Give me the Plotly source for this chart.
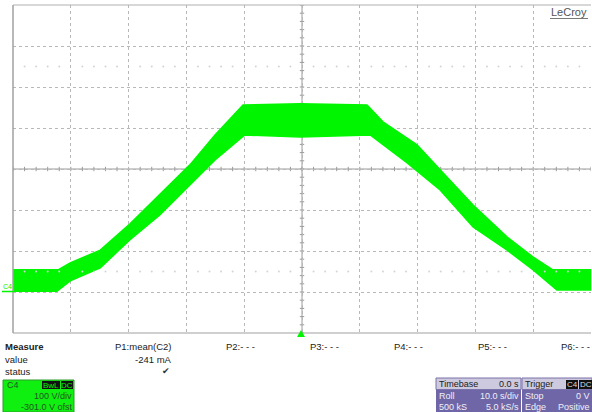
import plotly.graph_objects as go

upper_t = [-50, -42.2, -40.1, -34.9, -29.8, -24.6, -19.4, -15.05, -10.2, -0.35, 11.25,
           14.0, 19.9, 23.9, 29.6, 35.5, 40.0, 43.4, 50]
upper_v = [55, 55, 72, 103, 167, 238, 311, 384, 457, 460, 457,
           416, 360, 299, 213, 135, 86, 55, 55]
lower_t = [-50, -42.4, -40.1, -34.9, -29.8, -24.6, -19.4, -15.05, -9.9, -0.35, 11.8,
           18.2, 23.9, 29.6, 35.5, 40.0, 44.1, 50]
lower_v = [3, 3, 28, 60, 128, 189, 262, 323, 384, 379, 384,
           316, 250, 160, 103, 55, 6, 6]

meas_labels = ["P1:mean(C2)", "P2:- - -", "P3:- - -", "P4:- - -", "P5:- - -", "P6:- - -"]
meas_values = ["-241 mA", "", "", "", "", ""]
meas_status = ["\u2714", "", "", "", "", ""]

time_div = 10.0      # s/div
volt_div = 100.0     # V/div
offset = -301.0      # V
t_center = 0.0

# ---- geometry helpers ----
W, H = 592, 412
L, R, T, B = 13, 1, 5, 79
PW, PH = W - L - R, H - T - B

def px(x):
    return (x - L) / PW

def py(y):
    return (H - B - y) / PH

v_center = -offset
x0, x1 = t_center - 5 * time_div, t_center + 5 * time_div
y0, y1 = v_center - 4 * volt_div, v_center + 4 * volt_div

GREEN = "#00f500"
FONT = "Liberation Sans, Arial, sans-serif"

fig = go.Figure()

# waveform envelope
fig.add_trace(go.Scatter(
    x=upper_t + lower_t[::-1], y=upper_v + lower_v[::-1],
    fill="toself", fillcolor=GREEN, mode="lines",
    line=dict(color=GREEN, width=1.5), hoverinfo="skip", showlegend=False))

shapes = []
# center crosshair (solid) with minor ticks
shapes.append(dict(type="line", xref="x", yref="y", x0=t_center, x1=t_center, y0=y0, y1=y1,
                   line=dict(color="#9a9a9a", width=1), layer="below"))
shapes.append(dict(type="line", xref="x", yref="y", x0=x0, x1=x1, y0=v_center, y1=v_center,
                   line=dict(color="#9a9a9a", width=1), layer="below"))
tx = 2.2 / PW * (x1 - x0)
ty = 2.2 / PH * (y1 - y0)
for i in range(-25, 26):
    xt = t_center + i * time_div / 5
    shapes.append(dict(type="line", xref="x", yref="y", x0=xt, x1=xt,
                       y0=v_center - ty, y1=v_center + ty,
                       line=dict(color="#9a9a9a", width=1), layer="below"))
for j in range(-20, 21):
    yt = v_center + j * volt_div / 5
    shapes.append(dict(type="line", xref="x", yref="y", x0=t_center - tx, x1=t_center + tx,
                       y0=yt, y1=yt, line=dict(color="#9a9a9a", width=1), layer="below"))

# borders
shapes.append(dict(type="line", xref="paper", yref="paper", x0=0, x1=0, y0=0, y1=1,
                   line=dict(color="#a0a0a0", width=1.5)))
shapes.append(dict(type="line", xref="paper", yref="paper", x0=0, x1=1, y0=1, y1=1,
                   line=dict(color="#b0b0b0", width=1)))
shapes.append(dict(type="line", xref="paper", yref="paper", x0=0, x1=1, y0=0, y1=0,
                   line=dict(color="#a0a0a0", width=1)))

# faint dot rows
dot_x = [t_center + i * time_div / 5 for i in range(-24, 25) if i % 5 != 0]
for yrow in (v_center + 2.5 * volt_div, v_center - 2.5 * volt_div):
    fig.add_trace(go.Scatter(x=dot_x, y=[yrow] * len(dot_x), mode="markers",
                             marker=dict(color="#d4d4d4", size=2), hoverinfo="skip",
                             showlegend=False))

# trigger marker
shapes.append(dict(type="path", xref="paper", yref="paper",
                   path=f"M {px(297)} {py(337)} L {px(305)} {py(337)} L {px(301)} {py(330)} Z",
                   fillcolor=GREEN, line=dict(width=0)))
# C4 ground marker
shapes.append(dict(type="line", xref="paper", yref="paper", x0=px(2), x1=px(13),
                   y0=py(291.5), y1=py(291.5), line=dict(color=GREEN, width=1.5)))

annotations = []

def txt(x, y, s, anchor="left", size=10, color="#222", bold=False):
    if bold:
        s = "<b>" + s + "</b>"
    annotations.append(dict(xref="paper", yref="paper", x=px(x), y=py(y), text=s,
                            showarrow=False, xanchor=anchor, yanchor="middle",
                            font=dict(family=FONT, size=size, color=color), borderpad=0))

txt(2, 286, "C4", size=7, color=GREEN)

# LeCroy logo
txt(550, 12, "LeCroy", size=11, color="#555")
shapes.append(dict(type="line", xref="paper", yref="paper", x0=px(550), x1=px(588),
                   y0=py(18.5), y1=py(18.5), line=dict(color="#777", width=1)))

# measure table
txt(4, 346, "Measure", size=9.5, bold=True)
txt(4, 359, "value", size=9.5)
txt(4, 371, "status", size=9.5)
col_right = [173, 256, 340, 424, 508, 591]
for xr, lab, val, st in zip(col_right, meas_labels, meas_values, meas_status):
    txt(xr, 346, lab, anchor="right", size=9.5)
    if val:
        txt(xr, 359, val, anchor="right", size=9.5)
    if st:
        txt(xr - 2, 371, st, anchor="right", size=9, color="#333")

# C4 channel box
shapes.append(dict(type="rect", xref="paper", yref="paper", x0=px(3), x1=px(74),
                   y0=py(412), y1=py(380), fillcolor="#10f010", line=dict(color="#2a9a2a", width=1)))
txt(6, 385, "C4", size=9, color="#225522")
for bx0, bx1, lab in ((42, 60, "BwL"), (61, 73, "DC")):
    shapes.append(dict(type="rect", xref="paper", yref="paper", x0=px(bx0), x1=px(bx1),
                       y0=py(389), y1=py(381), fillcolor="#111", line=dict(width=0)))
    txt((bx0 + bx1) / 2, 385, lab, anchor="center", size=8, color=GREEN)
txt(73, 396, f"{volt_div:.0f} V/div", anchor="right", size=9, color="#225522")
txt(74, 407, f"{offset:.1f} V ofst", anchor="right", size=9, color="#225522")

# Timebase and Trigger boxes
HDR = "#cdc9de"
BODY = "#6e66a6"
for bx0, bx1 in ((436, 521), (522, 592)):
    shapes.append(dict(type="rect", xref="paper", yref="paper", x0=px(bx0), x1=px(bx1),
                       y0=py(412), y1=py(389.5), fillcolor=BODY, line=dict(width=0)))
    shapes.append(dict(type="rect", xref="paper", yref="paper", x0=px(bx0), x1=px(bx1),
                       y0=py(389.5), y1=py(378), fillcolor=HDR, line=dict(color="#7a72aa", width=1)))
txt(438, 384, "Timebase", size=9, color="#222")
txt(520, 384, f"{t_center:.1f} s", anchor="right", size=9, color="#222")
txt(438, 396, "Roll", size=9, color="#f0f0f8")
txt(520, 396, f"{time_div:.1f} s/div", anchor="right", size=9, color="#f0f0f8")
txt(438, 407, "500 kS", size=9, color="#f0f0f8")
txt(520, 407, "5.0 kS/s", anchor="right", size=9, color="#f0f0f8")

txt(524, 384, "Trigger", size=9, color="#222")
for bx0, bx1, lab in ((566, 578, "C4"), (579, 592, "DC")):
    shapes.append(dict(type="rect", xref="paper", yref="paper", x0=px(bx0), x1=px(bx1),
                       y0=py(389), y1=py(380), fillcolor="#111", line=dict(width=0)))
    txt((bx0 + bx1) / 2, 384.5, lab, anchor="center", size=8, color="#ddd")
txt(524, 396, "Stop", size=9, color="#f0f0f8")
txt(591, 396, "0 V", anchor="right", size=9, color="#f0f0f8")
txt(524, 407, "Edge", size=9, color="#f0f0f8")
txt(591, 407, "Positive", anchor="right", size=9, color="#f0f0f8")

grid = dict(showgrid=True, gridcolor="#b8b8b8", gridwidth=1, griddash="dot",
            zeroline=False, showticklabels=False, ticks="", showline=False, fixedrange=True)
fig.update_layout(
    width=W, height=H, margin=dict(l=L, r=R, t=T, b=B, pad=0),
    paper_bgcolor="white", plot_bgcolor="white", showlegend=False,
    xaxis=dict(range=[x0, x1], tick0=t_center, dtick=time_div, **grid),
    yaxis=dict(range=[y0, y1], tick0=v_center, dtick=volt_div, **grid),
    shapes=shapes, annotations=annotations,
)

fig.write_html("out.html", config={"displayModeBar": False},
               post_script="document.body.style.margin='0';document.body.style.overflow='hidden';")
